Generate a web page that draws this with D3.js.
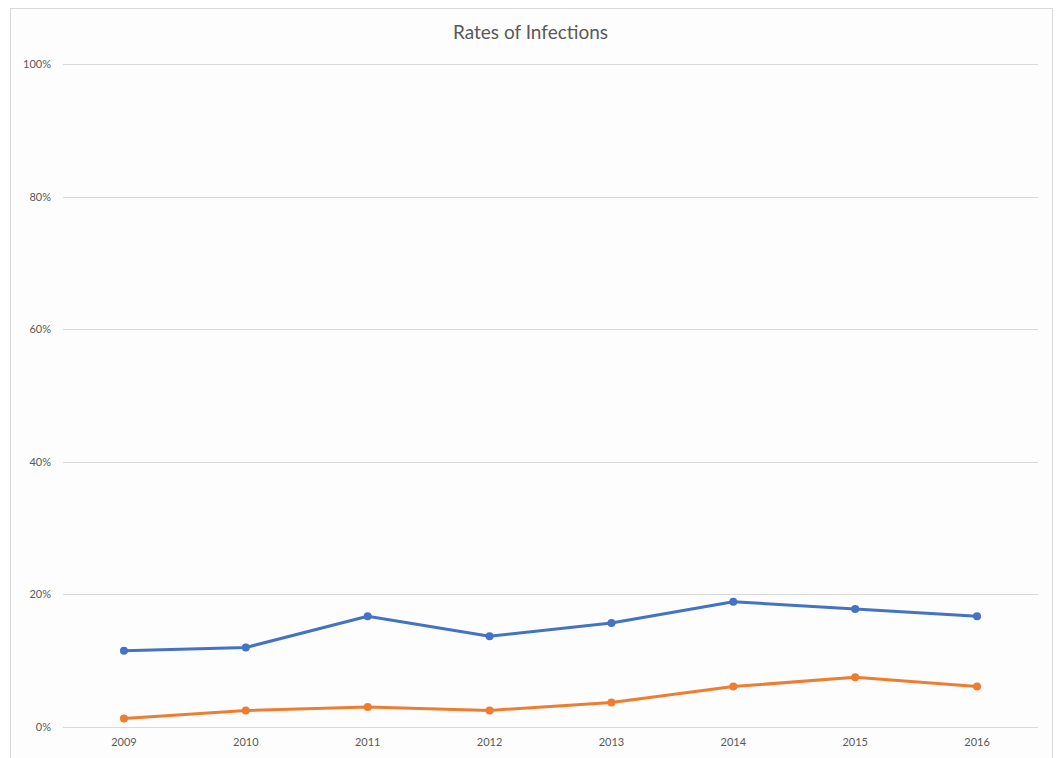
<!DOCTYPE html>
<html>
<head>
<meta charset="utf-8">
<script src="https://cdn.jsdelivr.net/npm/d3@7"></script>
<style>
  html, body { margin: 0; padding: 0; background: #fff; }
  svg { display: block; }
</style>
</head>
<body>
<svg id="chart" width="1057" height="758"></svg>
<script>
// Chart data
const years = ["2009", "2010", "2011", "2012", "2013", "2014", "2015", "2016"];
const seriesA = [11.5, 12.0, 16.7, 13.7, 15.7, 18.9, 17.8, 16.7];
const seriesB = [1.3, 2.5, 3.0, 2.5, 3.7, 6.1, 7.5, 6.1];
const yTicks = [0, 20, 40, 60, 80, 100];
const chartTitle = "Rates of Infections";

const colors = { a: "#4472C4", b: "#ED7D31" };
const font = "Lato, 'Open Sans', 'Liberation Sans', sans-serif";

const svg = d3.select("#chart");
const W = 1057, H = 758;
const margin = { left: 63, right: 19, top: 64, bottom: 31 };

// Chart area frame
svg.append("rect")
  .attr("x", 10.5).attr("y", 8.5)
  .attr("width", 1042).attr("height", 760)
  .attr("fill", "#fdfdfd")
  .attr("stroke", "#d9d9d9").attr("stroke-width", 1);

const x = d3.scaleBand()
  .domain(years)
  .range([margin.left, W - margin.right]);

const y = d3.scaleLinear()
  .domain([0, 100])
  .range([H - margin.bottom, margin.top]);

// Horizontal gridlines
svg.append("g")
  .selectAll("line")
  .data(yTicks)
  .join("line")
  .attr("x1", margin.left).attr("x2", W - margin.right)
  .attr("y1", d => Math.round(y(d)) + 0.5)
  .attr("y2", d => Math.round(y(d)) + 0.5)
  .attr("stroke", "#d9d9d9").attr("stroke-width", 1);

// Y axis labels
const yAxis = d3.axisLeft(y)
  .tickValues(yTicks)
  .tickSize(0)
  .tickPadding(12)
  .tickFormat(d => d + "%");
svg.append("g")
  .attr("transform", `translate(${margin.left},0)`)
  .call(yAxis)
  .call(g => g.select(".domain").remove())
  .call(g => g.selectAll("text")
    .attr("fill", "#595959")
    .style("font-family", font)
    .style("font-size", "11px"));

// X axis labels
const xAxis = d3.axisBottom(x).tickSize(0).tickPadding(11);
svg.append("g")
  .attr("transform", `translate(0,${H - margin.bottom})`)
  .call(xAxis)
  .call(g => g.select(".domain").remove())
  .call(g => g.selectAll("text")
    .attr("fill", "#595959")
    .style("font-family", font)
    .style("font-size", "11px"));

// Title
svg.append("text")
  .attr("x", (margin.left + W - margin.right) / 2 - 20)
  .attr("y", 39)
  .attr("text-anchor", "middle")
  .attr("fill", "#595959")
  .style("font-family", font)
  .style("font-size", "19px")
  .text(chartTitle);

const line = d3.line()
  .x((d, i) => x(years[i]) + x.bandwidth() / 2)
  .y(d => y(d));

function drawSeries(values, color) {
  svg.append("path")
    .datum(values)
    .attr("d", line)
    .attr("fill", "none")
    .attr("stroke", color)
    .attr("stroke-width", 3)
    .attr("stroke-linejoin", "round")
    .attr("stroke-linecap", "round");
  svg.append("g")
    .selectAll("circle")
    .data(values)
    .join("circle")
    .attr("cx", (d, i) => x(years[i]) + x.bandwidth() / 2)
    .attr("cy", d => y(d))
    .attr("r", 4)
    .attr("fill", color);
}

drawSeries(seriesA, colors.a);
drawSeries(seriesB, colors.b);
</script>
</body>
</html>
